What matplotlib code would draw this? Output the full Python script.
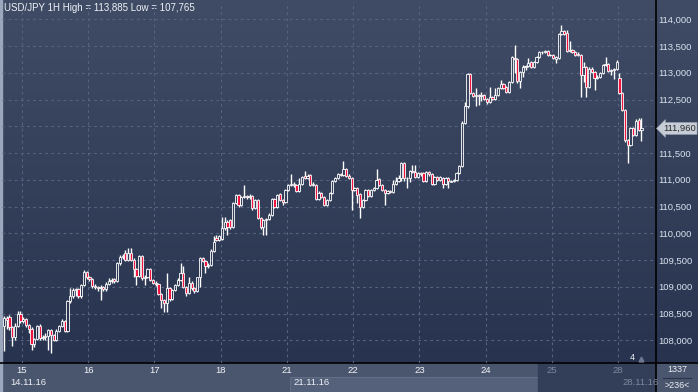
import matplotlib.pyplot as plt
import numpy as np
from matplotlib.patches import Rectangle
from matplotlib.transforms import blended_transform_factory

# hourly USD/JPY bars, 14.11.16 17:00 .. 28.11.16 08:00
opens = [
    108.26, 108.41, 108.43, 108.24, 108.07, 108.27, 108.50, 108.36, 108.39, 108.29, 108.21, 107.94,
    108.02, 108.27, 108.04, 108.07, 108.08, 108.19, 108.10, 108.01, 108.18, 108.27, 108.36, 108.17,
    108.74, 108.82, 108.94, 108.95, 108.83, 109.03, 109.28, 109.18, 109.14, 109.02, 108.99, 108.97,
    109.00, 108.95, 109.06, 109.10, 109.14, 109.11, 109.44, 109.55, 109.64, 109.51, 109.64, 109.51,
    109.34, 109.20, 109.57, 109.16, 109.19, 109.33, 109.13, 109.08, 109.05, 108.87, 108.75, 108.70,
    108.97, 108.77, 108.94, 109.03, 109.13, 109.25, 109.00, 108.89, 109.08, 108.97, 108.93, 109.18,
    109.53, 109.49, 109.38, 109.40, 109.67, 109.92, 109.87, 109.90, 110.09, 110.22, 110.25, 110.11,
    110.56, 110.72, 110.53, 110.68, 110.70, 110.67, 110.70, 110.47, 110.62, 110.29, 110.12, 110.25,
    110.26, 110.35, 110.64, 110.50, 110.73, 110.62, 110.59, 110.81, 110.90, 110.93, 110.90, 110.79,
    110.93, 111.08, 111.04, 111.09, 110.90, 110.90, 110.65, 110.76, 110.68, 110.53, 110.62, 110.75,
    110.98, 111.03, 111.10, 111.09, 111.20, 111.08, 111.03, 110.81, 110.84, 110.73, 110.50, 110.62,
    110.81, 110.69, 110.81, 110.84, 111.01, 110.90, 110.81, 110.75, 110.79, 110.78, 110.93, 110.97,
    111.03, 111.31, 111.03, 111.04, 111.16, 111.14, 111.06, 111.12, 111.12, 110.97, 111.14, 111.10,
    110.93, 111.06, 110.99, 111.04, 110.92, 111.04, 110.96, 110.97, 111.00, 111.12, 111.25, 112.07,
    112.37, 112.97, 112.62, 112.56, 112.59, 112.57, 112.59, 112.51, 112.46, 112.54, 112.51, 112.59,
    112.71, 112.79, 112.74, 112.65, 112.83, 113.28, 113.26, 112.85, 113.02, 113.11, 113.12, 113.20,
    113.11, 113.20, 113.30, 113.38, 113.39, 113.40, 113.34, 113.33, 113.26, 113.27, 113.72, 113.78,
    113.74, 113.41, 113.43, 113.39, 113.36, 113.34, 112.96, 113.10, 112.74, 113.08, 113.02, 112.90,
    112.93, 112.99, 113.15, 113.16, 113.03, 113.05, 113.07, 112.90, 112.63, 112.30, 111.74, 111.65,
    111.96, 111.84, 112.12, 111.93,
]
highs = [
    108.45, 108.45, 108.47, 108.27, 108.32, 108.54, 108.54, 108.43, 108.41, 108.31, 108.24, 108.05,
    108.29, 108.30, 108.10, 108.13, 108.22, 108.22, 108.12, 108.22, 108.29, 108.39, 108.38, 108.76,
    108.97, 108.97, 108.98, 108.97, 109.06, 109.31, 109.30, 109.20, 109.16, 109.05, 109.01, 109.03,
    109.02, 109.09, 109.16, 109.16, 109.16, 109.46, 109.59, 109.62, 109.68, 109.72, 109.72, 109.53,
    109.36, 109.60, 109.60, 109.22, 109.35, 109.35, 109.15, 109.10, 109.07, 108.89, 108.78, 109.25,
    108.99, 108.96, 109.06, 109.16, 109.44, 109.38, 109.02, 109.19, 109.10, 108.99, 109.19, 109.56,
    109.55, 109.51, 109.45, 109.70, 109.95, 109.96, 109.97, 110.31, 110.31, 110.24, 110.27, 110.58,
    110.74, 110.74, 110.70, 110.90, 110.72, 110.73, 110.72, 110.65, 110.64, 110.31, 110.27, 110.28,
    110.38, 110.66, 110.66, 110.74, 110.75, 110.64, 110.83, 110.92, 111.10, 110.95, 110.92, 111.03,
    111.08, 111.16, 111.10, 111.11, 110.95, 110.93, 110.79, 110.78, 110.70, 110.64, 110.77, 111.00,
    111.05, 111.12, 111.12, 111.35, 111.22, 111.10, 111.05, 110.86, 110.86, 110.75, 110.64, 110.83,
    110.83, 110.83, 110.86, 111.21, 111.03, 110.92, 110.83, 110.81, 110.81, 110.99, 111.06, 111.09,
    111.34, 111.33, 111.06, 111.18, 111.28, 111.28, 111.14, 111.14, 111.14, 111.16, 111.16, 111.12,
    111.08, 111.08, 111.08, 111.06, 111.05, 111.06, 111.00, 111.02, 111.14, 111.27, 112.09, 112.46,
    112.99, 112.99, 112.64, 112.71, 112.61, 112.64, 112.61, 112.53, 112.74, 112.56, 112.71, 112.74,
    112.87, 112.81, 112.76, 112.85, 113.32, 113.52, 113.28, 113.04, 113.15, 113.15, 113.28, 113.22,
    113.22, 113.32, 113.41, 113.41, 113.42, 113.42, 113.36, 113.35, 113.31, 113.74, 113.885, 113.80,
    113.80, 113.59, 113.45, 113.41, 113.38, 113.36, 113.21, 113.12, 113.10, 113.10, 113.04, 112.95,
    113.01, 113.17, 113.30, 113.18, 113.07, 113.09, 113.24, 112.99, 112.65, 112.32, 111.76, 111.98,
    111.99, 112.13, 112.16, 112.16,
]
lows = [
    107.80, 108.22, 108.19, 107.89, 108.01, 108.24, 108.33, 108.32, 108.24, 108.13, 107.82, 107.88,
    108.01, 108.01, 108.01, 108.01, 107.82, 107.765, 107.99, 107.98, 108.15, 108.25, 108.15, 108.15,
    108.70, 108.80, 108.82, 108.80, 108.80, 109.01, 109.15, 109.10, 108.98, 108.95, 108.93, 108.75,
    108.92, 108.93, 109.03, 109.07, 109.08, 109.09, 109.41, 109.52, 109.48, 109.49, 109.48, 109.19,
    109.03, 109.18, 109.13, 109.03, 109.16, 109.10, 109.05, 109.02, 108.85, 108.60, 108.53, 108.52,
    108.74, 108.75, 108.92, 109.01, 109.11, 108.98, 108.82, 108.87, 108.94, 108.88, 108.91, 109.00,
    109.46, 109.25, 109.36, 109.38, 109.65, 109.85, 109.85, 109.88, 110.07, 109.97, 110.08, 110.09,
    110.54, 110.50, 110.51, 110.66, 110.65, 110.65, 110.44, 110.45, 110.27, 110.08, 109.97, 109.97,
    110.24, 110.33, 110.48, 110.48, 110.60, 110.52, 110.57, 110.79, 110.88, 110.87, 110.77, 110.77,
    110.91, 111.02, 111.02, 110.88, 110.88, 110.63, 110.63, 110.66, 110.51, 110.51, 110.60, 110.73,
    110.96, 111.01, 111.07, 111.07, 111.06, 111.01, 110.44, 110.79, 110.56, 110.28, 110.48, 110.60,
    110.67, 110.67, 110.79, 110.82, 110.88, 110.79, 110.53, 110.73, 110.76, 110.76, 110.91, 110.95,
    110.97, 110.97, 110.84, 110.96, 111.12, 111.04, 111.04, 111.08, 110.95, 110.95, 111.08, 110.91,
    110.91, 110.97, 110.97, 110.84, 110.90, 110.85, 110.95, 110.95, 110.97, 111.10, 111.23, 112.05,
    112.35, 112.60, 112.54, 112.37, 112.40, 112.47, 112.49, 112.42, 112.44, 112.49, 112.49, 112.57,
    112.69, 112.70, 112.63, 112.63, 112.81, 113.00, 112.80, 112.71, 112.93, 113.05, 113.10, 113.09,
    113.09, 113.18, 113.28, 113.36, 113.37, 113.31, 113.31, 113.25, 113.18, 113.25, 113.70, 113.70,
    113.39, 113.39, 113.37, 113.32, 113.32, 112.55, 112.83, 112.55, 112.72, 113.00, 112.68, 112.88,
    112.91, 112.97, 113.13, 113.01, 112.96, 112.88, 113.05, 112.60, 112.28, 111.71, 111.32, 111.63,
    111.82, 111.82, 111.91, 111.72,
]
closes = [
    108.41, 108.38, 108.24, 108.06, 108.27, 108.50, 108.36, 108.39, 108.29, 108.21, 107.94, 108.02,
    108.27, 108.04, 108.07, 108.08, 108.19, 108.10, 108.01, 108.18, 108.27, 108.36, 108.17, 108.74,
    108.82, 108.94, 108.95, 108.83, 109.03, 109.28, 109.18, 109.14, 109.02, 108.99, 108.97, 109.00,
    108.95, 109.06, 109.10, 109.13, 109.11, 109.44, 109.55, 109.58, 109.51, 109.64, 109.51, 109.34,
    109.20, 109.57, 109.16, 109.19, 109.33, 109.13, 109.08, 109.05, 108.87, 108.75, 108.70, 108.97,
    108.77, 108.94, 109.03, 109.13, 109.25, 109.00, 108.89, 109.08, 108.97, 108.93, 109.18, 109.53,
    109.49, 109.38, 109.40, 109.67, 109.84, 109.87, 109.95, 110.09, 110.22, 110.12, 110.11, 110.56,
    110.72, 110.53, 110.68, 110.70, 110.67, 110.70, 110.47, 110.62, 110.29, 110.12, 110.25, 110.26,
    110.35, 110.64, 110.50, 110.72, 110.62, 110.59, 110.81, 110.90, 110.93, 110.90, 110.79, 110.93,
    111.06, 111.04, 111.08, 110.90, 110.93, 110.65, 110.76, 110.68, 110.53, 110.62, 110.75, 110.98,
    111.03, 111.10, 111.09, 111.20, 111.08, 111.03, 110.81, 110.84, 110.71, 110.50, 110.62, 110.81,
    110.69, 110.81, 110.84, 110.99, 110.90, 110.81, 110.75, 110.79, 110.78, 110.93, 110.97, 111.03,
    111.31, 111.03, 111.04, 111.16, 111.14, 111.06, 111.12, 111.10, 110.97, 111.14, 111.10, 110.93,
    111.06, 110.99, 111.06, 110.92, 111.03, 110.98, 110.97, 111.00, 111.12, 111.25, 112.07, 112.37,
    112.97, 112.62, 112.56, 112.59, 112.57, 112.59, 112.51, 112.46, 112.54, 112.51, 112.59, 112.71,
    112.79, 112.72, 112.65, 112.83, 113.30, 113.26, 112.85, 113.02, 113.11, 113.12, 113.18, 113.11,
    113.20, 113.30, 113.38, 113.39, 113.40, 113.33, 113.33, 113.27, 113.29, 113.72, 113.78, 113.72,
    113.41, 113.43, 113.39, 113.34, 113.34, 112.96, 113.10, 112.74, 113.08, 113.02, 112.90, 112.93,
    112.99, 113.15, 113.16, 113.03, 113.05, 113.07, 113.21, 112.63, 112.30, 111.74, 111.65, 111.96,
    111.84, 112.10, 111.93, 111.96,
]

day_labels = ['15', '16', '17', '18', '21', '22', '23', '24', '25', '28']
first_day_bar = 7      # bars of 14.11 before the 15th starts
bars_per_day = 24
last_price = 111.960
title = 'USD/JPY 1H High = 113,885 Low = 107,765'

W, H = 698, 392
plt.rcParams['font.family'] = 'Liberation Sans'

fig = plt.figure(figsize=(W / 100, H / 100), dpi=100)

# background / frame in pixel coords
bg = fig.add_axes([0, 0, 1, 1])
bg.set_xlim(0, W)
bg.set_ylim(H, 0)
bg.axis('off')
top = np.array([64, 76, 101]) / 255
bot = np.array([40, 51, 79]) / 255
g = np.linspace(0, 1, 256)[:, None, None]
bg.imshow(top + (bot - top) * g, extent=(0, W, 363, 0), aspect='auto')
bg.add_patch(Rectangle((0, 363), W, 29, color='#4a566e'))
bg.add_patch(Rectangle((290, 377), 248, 15, fc='#55617a', ec='#66728a', lw=0.6))
bg.add_patch(Rectangle((538, 363), 117, 29, color='#333f58'))
bg.plot([0, W], [363, 363], color='black', lw=1.2)
bg.plot([655.5, 655.5], [0, H], color='black', lw=1.2)
bg.add_patch(Rectangle((0, 0), 1.5, H, color='#9ba7bc'))
bg.plot([663, 691], [377.5, 377.5], color='#2c3447', lw=0.8)

bg.text(4, 8, title, color='#eef2f7', fontsize=7, va='center', ha='left')
bg.text(10, 382.5, '14.11.16', color='#eef1f5', fontsize=6.8, va='center')
bg.text(293, 382.5, '21.11.16', color='#eef1f5', fontsize=6.8, va='center')
clip = Rectangle((538, 363), 117, 29, transform=bg.transData)
t = bg.text(622, 382.5, '28.11.16', color='#7d889d', fontsize=6.8, va='center')
t.set_clip_path(clip)
bg.text(677, 369.5, '1337', color='#eef1f5', fontsize=6.4, va='center', ha='center')
bg.text(677, 385, '>236<', color='#eef1f5', fontsize=6.4, va='center', ha='center')

# price chart
ax = fig.add_axes([2 / W, 29 / H, 653 / W, 361 / H])
ax.patch.set_alpha(0)
for s in ax.spines.values():
    s.set_visible(False)

o = np.array(opens)
h = np.array(highs)
l = np.array(lows)
c = np.array(closes)
idx = np.arange(len(c))
body_lo = np.minimum(o, c)
body_hi = np.maximum(o, c)
faces = ['#f0143f' if cc < oo else 'none' for oo, cc in zip(o, c)]

ax.vlines(idx, l, body_lo, color='white', lw=1.0, zorder=3)
ax.vlines(idx, body_hi, h, color='white', lw=1.0, zorder=3)
ax.bar(idx, np.maximum(body_hi - body_lo, 0.004), bottom=body_lo, width=0.8,
       color=faces, edgecolor='white', linewidth=0.6, zorder=4)

ax.set_xlim(-0.7, 235.9)
ax.set_ylim(107.576, 114.323)

day_pos = [first_day_bar - 0.5 + bars_per_day * k for k in range(len(day_labels))]
ax.set_xticks(day_pos)
ax.set_xticklabels(day_labels)
for lab, txt in zip(ax.get_xticklabels(), day_labels):
    lab.set_color('#7d889d' if txt in ('25', '28') else '#f2f4f7')
    lab.set_fontsize(6.8)

yt = np.arange(108.0, 114.01, 0.5)
ylabels = [f'{v:.3f}'.replace('.', ',') for v in yt]
# the last-price tag sits over the 112,000 level
ylabels = ['' if abs(v - last_price) < 0.2 else s for v, s in zip(yt, ylabels)]
ax.set_yticks(yt)
ax.set_yticklabels(ylabels, color='#d9e3ef', fontsize=6.8)
ax.yaxis.tick_right()
ax.tick_params(axis='y', length=0, pad=2.5)
ax.tick_params(axis='x', length=0, pad=2.5)
ax.grid(True, color='#56637f', linestyle=(0, (2.5, 3)), lw=0.8, zorder=0)

tr = blended_transform_factory(ax.transAxes, ax.transData)
ax.text(1.012, last_price, f'{last_price:.3f}'.replace('.', ','), transform=tr,
        ha='left', va='center', fontsize=6.8, color='#2a2a2a', clip_on=False,
        bbox=dict(boxstyle='larrow,pad=0.15', fc='#c6cdd7', ec='#98a2b1', lw=0.5))

tr2 = blended_transform_factory(ax.transData, ax.transAxes)
ax.text(227.6, 0.015, '4', transform=tr2, ha='center', va='center',
        fontsize=6.4, color='#eef1f5')
ax.plot([230.8], [0.012], marker='^', ms=3.5, color='#6d7890', transform=tr2, clip_on=False)

fig.savefig('out.png', dpi=100)
